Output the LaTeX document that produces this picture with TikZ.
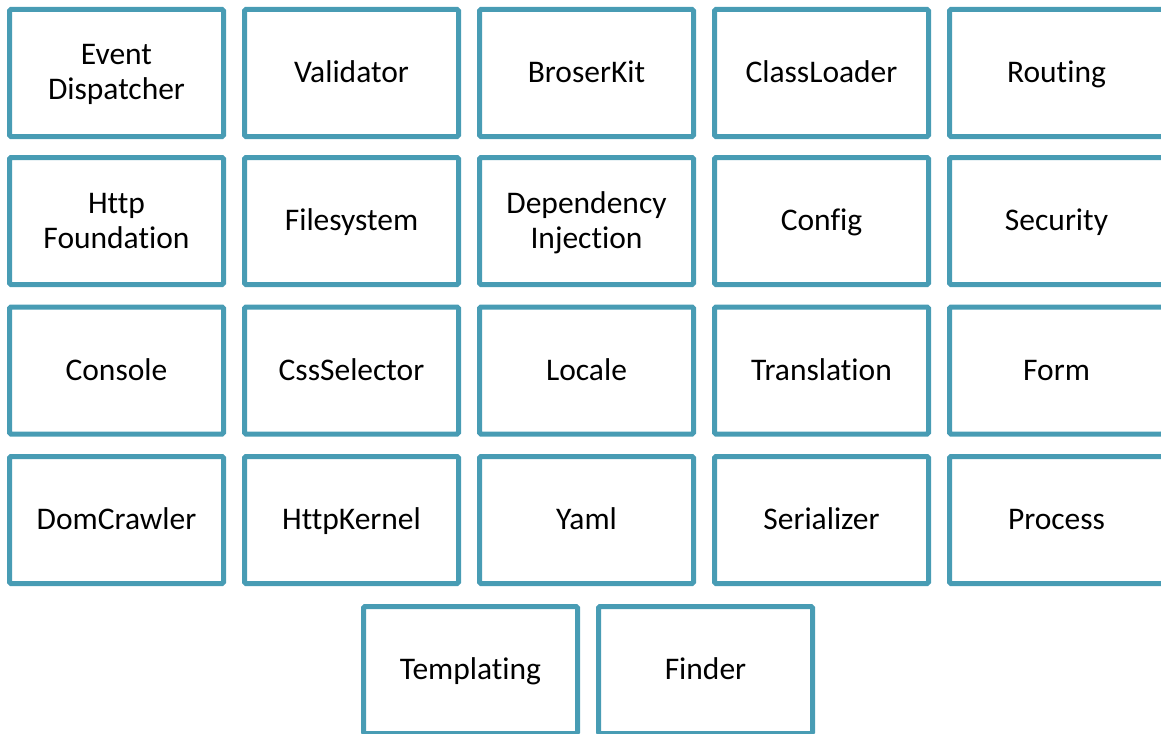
\documentclass[tikz,border=0pt]{standalone}
\usepackage{fontspec}
\setmainfont[Ligatures=NoCommon]{Carlito}
\definecolor{boxteal}{RGB}{72,156,180}
\newcommand\lstrut{\rule[-10.5pt]{0pt}{40pt}}
\newcommand\hstrut{\rule{0pt}{29.5pt}}
\newcommand\dstrut{\rule[-10.5pt]{0pt}{10.5pt}}
\begin{document}
\begin{tikzpicture}[x=1pt,y=-1pt,
  comp/.style={draw=boxteal, line width=5pt, rounded corners=1.5pt, fill=white,
    minimum width=214pt, minimum height=127pt, inner sep=0pt, align=center,
    font=\fontsize{31.5}{35}\selectfont, text=black, anchor=center}]
\useasboundingbox (0,0) rectangle (1161,733);
\clip (0,0) rectangle (1161,733);
% row 1
\node[comp] (ed) at (116.5,73) {\hstrut Event\\Dispatcher\dstrut};
\node[comp] (val) at (351.5,73) {Validator\lstrut};
\node[comp] (bk) at (586.5,73) {BroserKit\lstrut};
\node[comp] (cl) at (821.5,73) {ClassLoader\lstrut};
\node[comp] (rt) at (1056.5,73) {Routing\lstrut};
% row 2
\node[comp] (hf) at (116.5,221) {\hstrut Http\\Foundation\dstrut};
\node[comp] (fs) at (351.5,221) {Filesystem\lstrut};
\node[comp] (di) at (586.5,221) {\hstrut Dependency\\Injection\dstrut};
\node[comp] (cf) at (821.5,221) {Config\lstrut};
\node[comp] (sec) at (1056.5,221) {Security\lstrut};
% row 3
\node[comp] (con) at (116.5,370.5) {Console\lstrut};
\node[comp] (css) at (351.5,370.5) {CssSelector\lstrut};
\node[comp] (loc) at (586.5,370.5) {Locale\lstrut};
\node[comp] (tr) at (821.5,370.5) {Translation\lstrut};
\node[comp] (frm) at (1056.5,370.5) {Form\lstrut};
% row 4
\node[comp] (dom) at (116.5,520) {DomCrawler\lstrut};
\node[comp] (hk) at (351.5,520) {HttpKernel\lstrut};
\node[comp] (yml) at (586.5,520) {Yaml\lstrut};
\node[comp] (ser) at (821.5,520) {Serializer\lstrut};
\node[comp] (pro) at (1056.5,520) {Process\lstrut};
% row 5
\node[comp] (tpl) at (470.5,670) {Templating\lstrut};
\node[comp] (fnd) at (705.5,670) {Finder\lstrut};
\end{tikzpicture}
\end{document}
